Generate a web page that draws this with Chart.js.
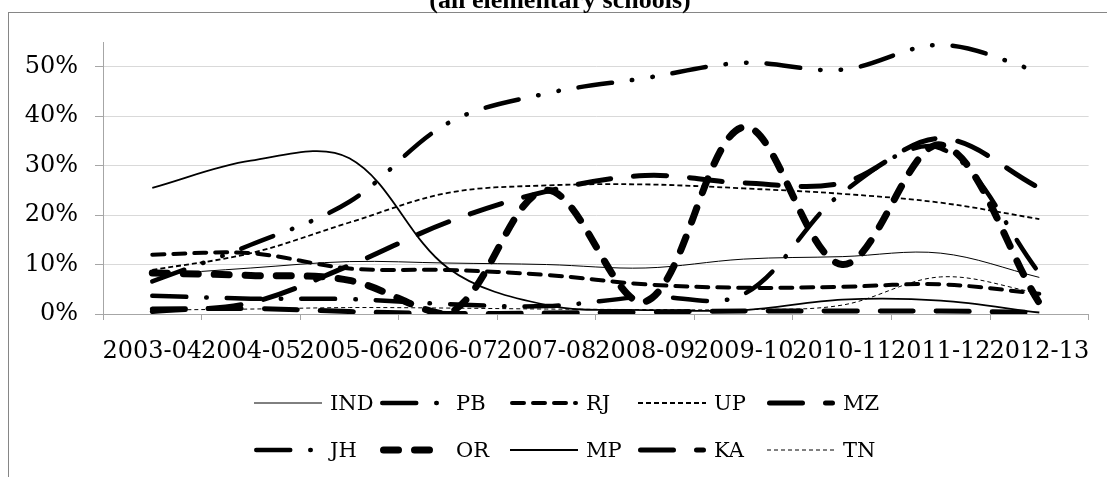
<!DOCTYPE html>
<html>
<head>
<meta charset="utf-8">
<script src="https://cdn.jsdelivr.net/npm/chart.js@4.4.0/dist/chart.umd.min.js"></script>
<style>
  body{margin:0;background:#fff;}
  #wrap{position:relative;width:1107px;height:477px;overflow:hidden;background:#fff;}
  #marco{position:absolute;left:8px;top:12px;width:1200px;height:600px;border:1px solid #868686;}
  #titulo{position:absolute;left:0;top:-13px;width:1120px;text-align:center;font:bold 26px/26px "Liberation Serif";color:#000;}
  #grafico{position:absolute;left:0;top:0;}
  .lg{position:absolute;display:flex;align-items:center;height:30px;font:21px "DejaVu Serif";color:#000;white-space:nowrap;}
  .lg svg{margin-right:8px;display:block;}
</style>
</head>
<body>
<div id="wrap">
  <div id="marco"></div>
  <canvas id="grafico" width="1107" height="477"></canvas>
  <div id="titulo">(all elementary schools)</div>
  <div id="leyenda"></div>
</div>
<script>
//DATOS (porcentajes)
const anios=['2003-04','2004-05','2005-06','2006-07','2007-08','2008-09','2009-10','2010-11','2011-12','2012-13'];
const ticksY=[0,10,20,30,40,50];

const IND=[7.9, 9.3, 10.6, 10.3, 10.0, 9.3, 11.1, 11.6, 12.3, 7.4];
const PB =[3.7, 3.1, 3.0, 2.0, 1.6, 3.5, 4.0, 24.5, 33.5, 8.3];
const RJ =[12.0, 12.3, 9.2, 8.9, 7.9, 6.0, 5.3, 5.5, 6.0, 4.1];
const UP =[8.9, 12.3, 18.5, 24.5, 26.0, 26.2, 25.4, 24.3, 22.5, 19.2];
const MZ =[0.5, 2.3, 9.8, 18.6, 24.8, 28.0, 26.5, 26.5, 35.5, 25.5];
const JH =[6.6, 14.0, 22.7, 38.6, 44.6, 47.7, 50.8, 49.4, 54.4, 49.0];
const OR =[8.3, 7.8, 6.8, 0.0, 25.0, 2.5, 37.8, 10.0, 34.2, 2.2];
const MP =[25.5, 31.0, 31.5, 9.3, 1.8, 0.8, 0.8, 2.9, 2.7, 0.3];
const KA =[1.0, 1.1, 0.5, 0.1, 0.2, 0.4, 0.6, 0.6, 0.6, 0.3];
const TN =[0.8, 1.0, 1.3, 1.2, 1.0, 0.9, 0.9, 1.8, 7.5, 4.2];

const series=[['IND',IND],['PB',PB],['RJ',RJ],['UP',UP],['MZ',MZ],['JH',JH],['OR',OR],['MP',MP],['KA',KA],['TN',TN]];

//ESTILOS DE LINEA
const estilos={
  IND:{w:1,   dash:[],                     cap:'butt'},
  PB: {w:4.5, dash:[34,20,0.5,20],         cap:'round'},
  RJ: {w:4,   dash:[12,9],                 cap:'round'},
  UP: {w:1.8, dash:[5,3],                  cap:'butt'},
  MZ: {w:5,   dash:[33,23],                cap:'round'},
  JH: {w:4.5, dash:[34,20,0.5,20,0.5,20],  cap:'round'},
  OR: {w:7,   dash:[15,16],                cap:'round'},
  MP: {w:1.8, dash:[],                     cap:'butt'},
  KA: {w:5,   dash:[33,23],                cap:'round'},
  TN: {w:1,   dash:[4,3],                  cap:'butt'}
};

const fuente={family:'DejaVu Serif',size:24};

const datasets=series.map(function(s,i){
  const e=estilos[s[0]];
  return {
    label:s[0],
    data:s[1],
    borderColor:'#000',
    backgroundColor:'#000',
    borderWidth:e.w,
    borderDash:e.dash,
    borderCapStyle:e.cap,
    borderJoinStyle:'round',
    tension:0.35,
    pointRadius:0,
    fill:false,
    order:-i
  };
});

const grafico=new Chart(document.querySelector('#grafico'),{
  type:'line',
  data:{labels:anios,datasets:datasets},
  options:{
    responsive:false,
    animation:false,
    devicePixelRatio:1,
    layout:{padding:{left:0,right:16,top:42,bottom:103}},
    plugins:{legend:{display:false},tooltip:{enabled:false}},
    scales:{
      x:{
        offset:true,
        grid:{offset:true,drawOnChartArea:false,drawTicks:true,tickLength:6,color:'#a6a6a6'},
        border:{color:'#a6a6a6'},
        ticks:{autoSkip:false,maxRotation:0,minRotation:0,padding:17,color:'#000',font:fuente},
        afterFit:function(s){s.height=60;}
      },
      y:{
        min:0,
        max:55,
        afterBuildTicks:function(s){s.ticks=ticksY.map(function(v){return {value:v};});},
        grid:{color:'#d9d9d9',tickColor:'#a6a6a6',tickLength:8},
        border:{color:'#a6a6a6'},
        ticks:{padding:17,color:'#000',font:fuente,callback:function(v){return v+'%';}},
        afterFit:function(s){s.width=103;}
      }
    }
  }
});

//LEYENDA (columnas como en el original)
const colX=[254,380,510,638,767];
const filaY=[403,450];
const leyenda=document.querySelector('#leyenda');
grafico.data.datasets.forEach(function(d,i){
  const item=document.createElement('div');
  item.className='lg';
  item.style.left=colX[i%5]+'px';
  item.style.top=(filaY[Math.floor(i/5)]-15)+'px';
  const w=d.borderWidth;
  const x0=d.borderCapStyle==='round'?w/2:0;
  const dash=d.borderDash.length?' stroke-dasharray="'+d.borderDash.join(' ')+'"':'';
  item.innerHTML='<svg width="68" height="12"><line x1="'+x0+'" y1="6" x2="'+(68-x0)+'" y2="6" stroke="#000" stroke-width="'+w+'" stroke-linecap="'+d.borderCapStyle+'"'+dash+'/></svg><span>'+d.label+'</span>';
  leyenda.appendChild(item);
});
</script>
</body>
</html>
